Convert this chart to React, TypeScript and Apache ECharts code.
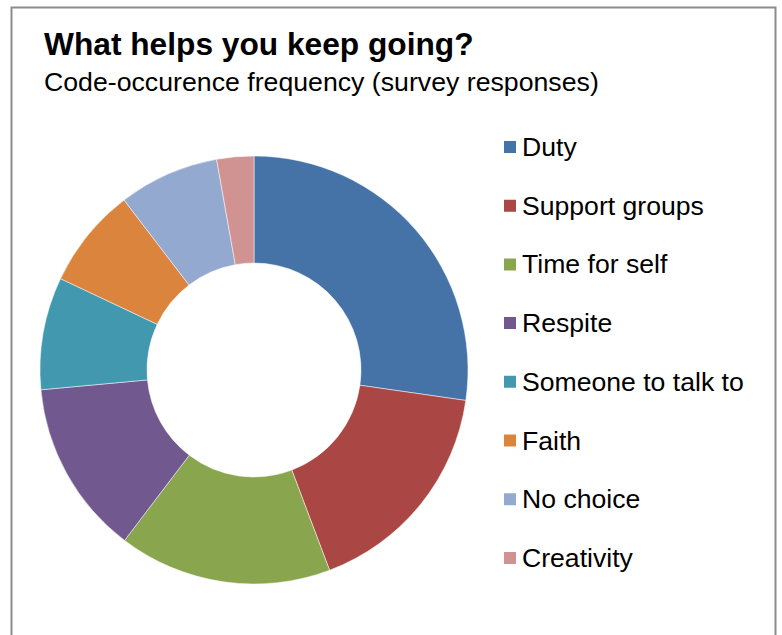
import React, { useEffect, useRef } from "react";
import * as echarts from "echarts";

const categories = [
  "Duty",
  "Support groups",
  "Time for self",
  "Respite",
  "Someone to talk to",
  "Faith",
  "No choice",
  "Creativity",
];
const values = [27.3, 17.0, 16.1, 13.2, 8.5, 7.6, 7.6, 2.8];
const colors = [
  "#4572A7",
  "#AA4643",
  "#89A54E",
  "#71588F",
  "#4198AF",
  "#DB843D",
  "#93A9CF",
  "#D19392",
];
const titleText = "What helps you keep going?";
const subtitleText = "Code-occurence frequency (survey responses)";

const FONT = "'Liberation Sans', Arial, Helvetica, sans-serif";

export default function App() {
  const ref = useRef<HTMLDivElement>(null);
  useEffect(() => {
    if (!ref.current) return;
    const chart = echarts.init(ref.current, null, { renderer: "svg" });
    chart.setOption({
      animation: false,
      backgroundColor: "#ffffff",
      title: {
        text: titleText,
        subtext: subtitleText,
        left: 44,
        top: 27,
        padding: 0,
        itemGap: 7,
        textStyle: {
          fontFamily: FONT,
          fontWeight: "bold",
          fontSize: 31.7,
          color: "#000000",
          lineHeight: 34,
        },
        subtextStyle: {
          fontFamily: FONT,
          fontSize: 26.7,
          color: "#000000",
          lineHeight: 28,
        },
      },
      legend: {
        orient: "vertical",
        left: 502,
        top: 132,
        itemWidth: 14,
        itemHeight: 14,
        itemGap: 28.7,
        icon: "rect",
        padding: 0,
        data: categories,
        textStyle: {
          fontFamily: FONT,
          fontSize: 26.6,
          color: "#000000",
          lineHeight: 30,
        },
      },
      graphic: [
        {
          type: "rect",
          shape: { x: 11.5, y: 7.5, width: 764, height: 700 },
          style: { fill: "none", stroke: "#8c8c8c", lineWidth: 2 },
          silent: true,
        },
      ],
      series: [
        {
          type: "pie",
          center: [254, 370],
          radius: [107, 214],
          startAngle: 90,
          clockwise: true,
          label: { show: false },
          labelLine: { show: false },
          emphasis: { disabled: true },
          itemStyle: { borderColor: "#ffffff", borderWidth: 0.5 },
          data: categories.map((name, i) => ({
            name,
            value: values[i],
            itemStyle: { color: colors[i] },
          })),
        },
      ],
    });
    return () => chart.dispose();
  }, []);
  return (
    <div
      ref={ref}
      style={{ position: "fixed", left: 0, top: 0, width: 782, height: 635 }}
    />
  );
}
